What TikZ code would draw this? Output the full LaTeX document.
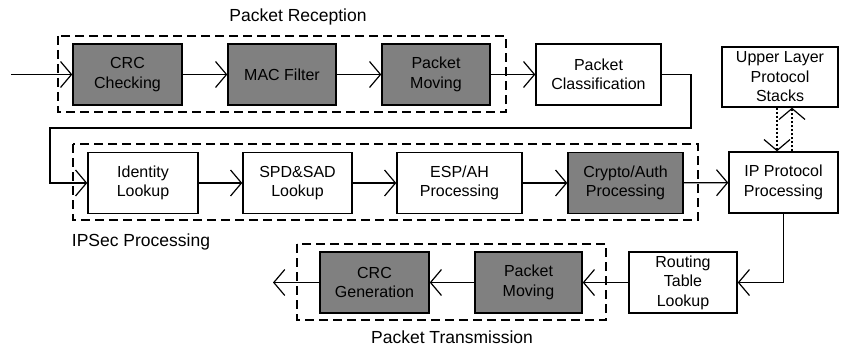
\documentclass[tikz,border=0pt]{standalone}
\usepackage{fontspec}
\setmainfont{Liberation Sans}
\usetikzlibrary{arrows.meta}
\definecolor{boxgray}{RGB}{128,128,128}
\begin{document}
\begin{tikzpicture}[x=1pt,y=-1pt,
  blk/.style={draw,line width=1.4pt,inner sep=0pt,align=center,
    font=\fontsize{16}{19.5}\selectfont,minimum height=61pt},
  grayblk/.style={blk,fill=boxgray},
  grp/.style={draw,line width=1.2pt,dash pattern=on 9pt off 5pt},
  flow/.style={line width=1.2pt,-{Straight Barb[length=11pt,width=26pt]}},
  dotflow/.style={flow,dash pattern=on 2pt off 2pt},
  ttl/.style={font=\fontsize{17.5}{20}\selectfont,inner sep=0pt}
]
\useasboundingbox (0,0) rectangle (842,350);
% group boxes
\draw[grp] (58,36) rectangle (506,112);
\draw[grp] (73,144) rectangle (698,220);
\draw[grp] (297,244) rectangle (606,320);
\node[ttl] (tr) at (298,17) {Packet Reception};
\node[ttl] (ti) at (141,242) {IPSec Processing};
\node[ttl] (tt) at (452,337) {Packet Transmission};
% row 1
\node[grayblk,minimum width=109pt] (crc) at (127.5,74.5) {CRC\\Checking};
\node[grayblk,minimum width=108pt] (mac) at (282,74.5) {MAC Filter};
\node[grayblk,minimum width=108pt] (pm1) at (436,74.5) {Packet\\Moving};
\node[blk,minimum width=125pt] (cls) at (598.5,74.5) {Packet\\Classification};
\node[blk,minimum width=116pt,minimum height=60pt] (up) at (780,77) {Upper Layer\\Protocol\\Stacks};
% row 2
\node[blk,minimum width=110pt] (id) at (143,183) {Identity\\Lookup};
\node[blk,minimum width=109pt] (spd) at (297.5,183) {SPD\&SAD\\Lookup};
\node[blk,minimum width=125pt] (esp) at (459.5,183) {ESP/AH\\Processing};
\node[grayblk,minimum width=115pt] (cry) at (625.5,183) {Crypto/Auth\\Processing};
\node[blk,minimum width=109pt] (ip) at (783.5,182.5) {IP Protocol\\Processing};
% row 3
\node[grayblk,minimum width=109pt] (crcg) at (374.5,282.5) {CRC\\Generation};
\node[grayblk,minimum width=107pt] (pm2) at (528.5,282.5) {Packet\\Moving};
\node[blk,minimum width=108pt] (rt) at (683,282.5) {Routing\\Table\\Lookup};
% helper coordinates
\coordinate (in) at (11,74.5);
\coordinate (out) at (273,282.5);
\coordinate (c1) at (691,128);
\coordinate (c2) at (50,128);
\coordinate (dl) at (777,0);
\coordinate (dr) at (792,0);
% connectors
\draw[flow] (in) -- (crc);
\draw[flow] (crc) -- (mac);
\draw[flow] (mac) -- (pm1);
\draw[flow] (pm1) -- (cls);
\draw[flow] (cls.east) -| (c1) -- (c2) |- (id.west);
\draw[flow] (id) -- (spd);
\draw[flow] (spd) -- (esp);
\draw[flow] (esp) -- (cry);
\draw[flow] (cry) -- (ip);
\draw[dotflow] (up.south -| dl) -- (ip.north -| dl);
\draw[dotflow] (ip.north -| dr) -- (up.south -| dr);
\draw[flow] (ip.south) |- (rt.east);
\draw[flow] (rt) -- (pm2);
\draw[flow] (pm2) -- (crcg);
\draw[flow] (crcg) -- (out);
\end{tikzpicture}
\end{document}
